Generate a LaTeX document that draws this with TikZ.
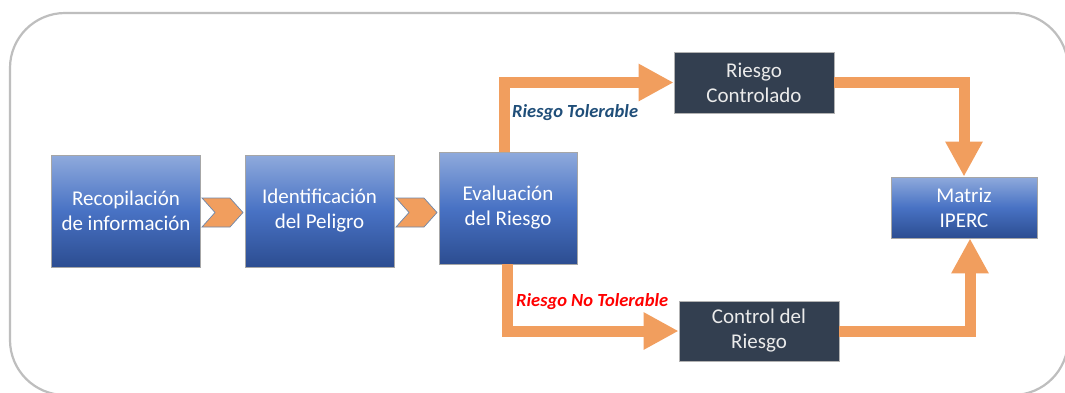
\documentclass[tikz,border=0pt]{standalone}
\usepackage{fontspec}
\setmainfont{Carlito}
\usetikzlibrary{arrows.meta}
\definecolor{blueTop}{RGB}{143,170,220}
\definecolor{blueMid}{RGB}{72,114,196}
\definecolor{blueBot}{RGB}{44,77,145}
\definecolor{darkbox}{RGB}{51,63,80}
\definecolor{flowOrange}{RGB}{241,158,94}
\definecolor{chevEdge}{RGB}{110,135,170}
\definecolor{tolBlue}{RGB}{31,78,121}
\definecolor{frameGray}{RGB}{190,190,190}
\begin{document}
\begin{tikzpicture}[x=1pt,y=-1pt,
  bluebox/.style={draw=black!35, line width=0.8pt, top color=blueTop, bottom color=blueBot, middle color=blueMid,
    text=white, font=\fontsize{21}{25}\selectfont, align=center, inner sep=0pt},
  darkboxstyle/.style={draw=black!30, line width=0.8pt, fill=darkbox,
    text=white!92!black, font=\fontsize{21}{25}\selectfont, align=center, inner sep=0pt},
  flow/.style={draw=flowOrange, line width=11pt, line join=miter,
    -{Triangle[width=35pt,length=35pt]}},
  chev/.style={fill=flowOrange, draw=chevEdge, line width=0.7pt, line join=miter},
  lbl/.style={font=\fontsize{18.5}{22}\selectfont\bfseries\itshape, inner sep=0pt, anchor=west}
]
\useasboundingbox (0,0) rectangle (1065,392);
\fill[white] (0,0) rectangle (1065,392);
\draw[frameGray, line width=2.2pt, rounded corners=55pt] (10,13) rectangle (1068,395);

\node[bluebox, minimum width=149pt, minimum height=112pt] (rec) at (126,211) {Recopilación\\de información};
\node[bluebox, minimum width=149pt, minimum height=112pt] (ide) at (319.5,211) {Identificación\\del Peligro};
\node[bluebox, minimum width=138pt, minimum height=112pt] (eva) at (508,208) {Evaluación\\del Riesgo};
\node[darkboxstyle, minimum width=160pt, minimum height=61pt] (rc) at (754,82.5) {Riesgo\\Controlado};
\node[darkboxstyle, minimum width=160pt, minimum height=60pt] (cr) at (759,331) {Control del\\Riesgo};
\node[bluebox, minimum width=146pt, minimum height=61pt] (mat) at (964,207.5) {Matriz\\IPERC};

\draw[chev] (202,198) -- (230,198) -- (243,212.5) -- (230,227) -- (202,227) -- (215,212.5) -- cycle;
\draw[chev] (396,198) -- (424,198) -- (437,212.5) -- (424,227) -- (396,227) -- (409,212.5) -- cycle;

\draw[flow] ([xshift=-4pt]eva.north) |- (rc.west);
\draw[flow] ([xshift=-1pt]eva.south) |- (cr.west);
\draw[flow] (rc.east) -| (mat.north);
\draw[flow] (cr.east) -| ([xshift=6pt]mat.south);

\node[lbl, text=tolBlue] (lt) at (512,113) {Riesgo Tolerable};
\node[lbl, text=red] (lnt) at (516,302) {Riesgo No Tolerable};
\end{tikzpicture}
\end{document}
